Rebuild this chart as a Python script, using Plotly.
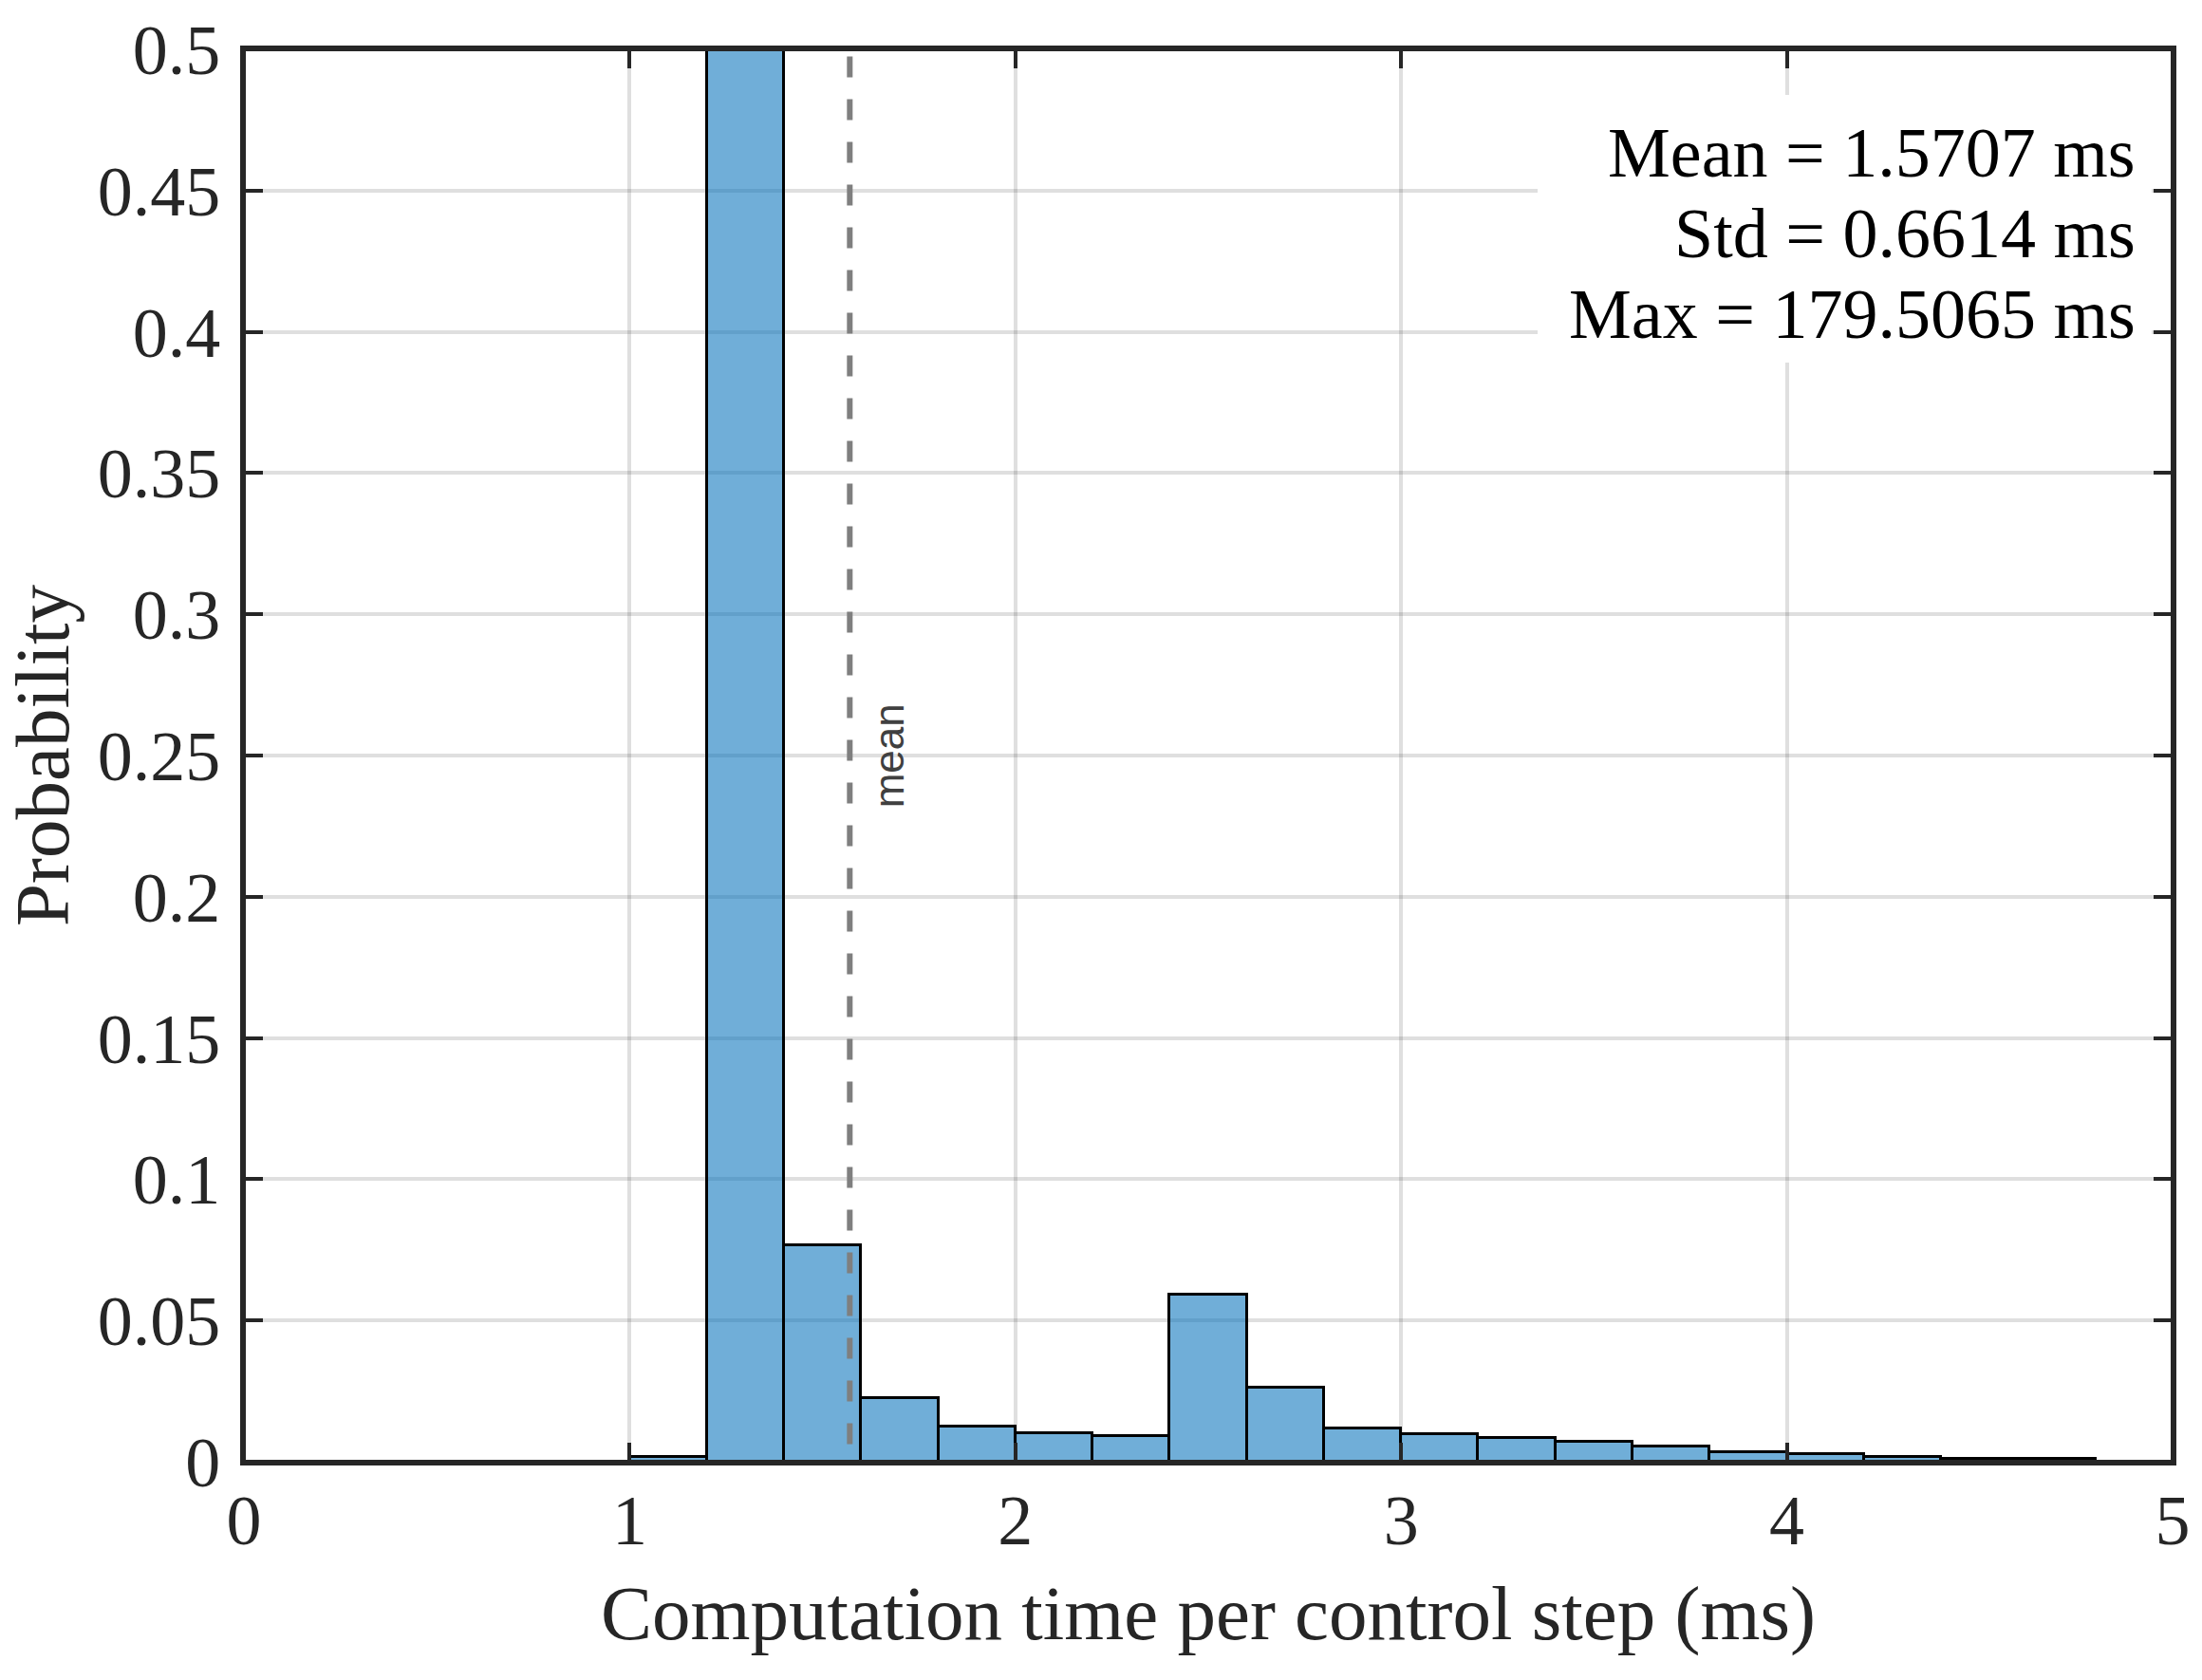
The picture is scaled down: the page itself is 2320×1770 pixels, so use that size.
import plotly.graph_objects as go

# histogram of computation time per control step (probability normalization)
bin_edges = [1.0, 1.2, 1.4, 1.6, 1.8, 2.0, 2.2, 2.4, 2.6, 2.8, 3.0,
             3.2, 3.4, 3.6, 3.8, 4.0, 4.2, 4.4, 4.6, 4.8, 5.0]
probability = [0.0017, 0.62, 0.0765, 0.0226, 0.0126, 0.0100, 0.0092, 0.0593,
               0.0262, 0.0119, 0.0096, 0.0083, 0.0071, 0.0053, 0.0034, 0.0026,
               0.0017, 0.0010, 0.0009, 0.0]

mean_ms = 1.5707
stats_lines = ["Mean = 1.5707 ms", "Std = 0.6614 ms", "Max = 179.5065 ms"]

y_ticks = [0, 0.05, 0.1, 0.15, 0.2, 0.25, 0.3, 0.35, 0.4, 0.45, 0.5]
y_ticklabels = ["0", "0.05", "0.1", "0.15", "0.2", "0.25", "0.3", "0.35", "0.4", "0.45", "0.5"]
x_ticks = [0, 1, 2, 3, 4, 5]

serif = "Liberation Serif, Times New Roman, serif"
axis_col = "#262626"
grid_col = "rgba(38,38,38,0.15)"

fig = go.Figure()

left = bin_edges[:-1]
widths = [b - a for a, b in zip(bin_edges[:-1], bin_edges[1:])]

fig.add_trace(go.Bar(
    x=left,
    y=probability,
    width=widths,
    offset=0,
    marker=dict(color="rgba(0,110,185,0.56)",
                line=dict(color="black", width=3)),
    showlegend=False,
))

# mean line (drawn top-down so the dash pattern starts at the top)
fig.add_shape(type="line", xref="x", yref="y domain",
              x0=mean_ms, x1=mean_ms, y0=0.995, y1=0,
              line=dict(color="#7f7f7f", width=6, dash="22px,23px"),
              layer="above")
fig.add_annotation(x=mean_ms, y=0.25, xref="x", yref="y",
                   text="mean", textangle=-90, showarrow=False,
                   xshift=41,
                   font=dict(family="Liberation Sans, Arial, sans-serif",
                             size=44, color="#404040"))

# white box behind the stats text (hides the grid there)
fig.add_annotation(x=0.989, y=0.968, xref="x domain", yref="y domain",
                   xanchor="right", yanchor="top",
                   text=" ", showarrow=False,
                   width=647, height=282, bgcolor="white",
                   borderpad=0, borderwidth=0)

for i, line in enumerate(stats_lines):
    fig.add_annotation(x=0.982, y=0.927 - i * 0.0574,
                       xref="x domain", yref="y domain",
                       xanchor="right", yanchor="middle",
                       text=line, showarrow=False,
                       font=dict(family=serif, size=74, color="black"))

# axes box
fig.add_shape(type="rect", xref="x domain", yref="y domain",
              x0=0, x1=1, y0=0, y1=1,
              line=dict(color=axis_col, width=4), layer="above")

axis_common = dict(
    showline=True, linecolor=axis_col, linewidth=4, mirror="ticks",
    ticks="inside", ticklen=20, tickwidth=4, tickcolor=axis_col,
    showgrid=True, gridcolor=grid_col, gridwidth=4,
    zeroline=False, ticklabeloverflow="allow",
    tickfont=dict(family=serif, size=74, color=axis_col),
)

fig.update_xaxes(
    range=[0, 5], tickvals=x_ticks,
    title=dict(text="Computation time per control step (ms)",
               font=dict(family=serif, size=81, color=axis_col), standoff=30),
    ticklabelstandoff=-6,
    **axis_common,
)
fig.update_yaxes(
    range=[0, 0.5], tickvals=y_ticks, ticktext=y_ticklabels,
    title=dict(text="Probability",
               font=dict(family=serif, size=81, color=axis_col), standoff=24),
    ticklabelstandoff=6,
    **axis_common,
)

fig.update_layout(
    width=2320, height=1770,
    margin=dict(l=257, r=18, t=42, b=230),
    plot_bgcolor="white", paper_bgcolor="white",
    bargap=0,
)

fig.write_html("out.html",
               config={"displayModeBar": False},
               post_script="document.body.style.margin='0px';"
                           "document.body.style.overflow='hidden';")
